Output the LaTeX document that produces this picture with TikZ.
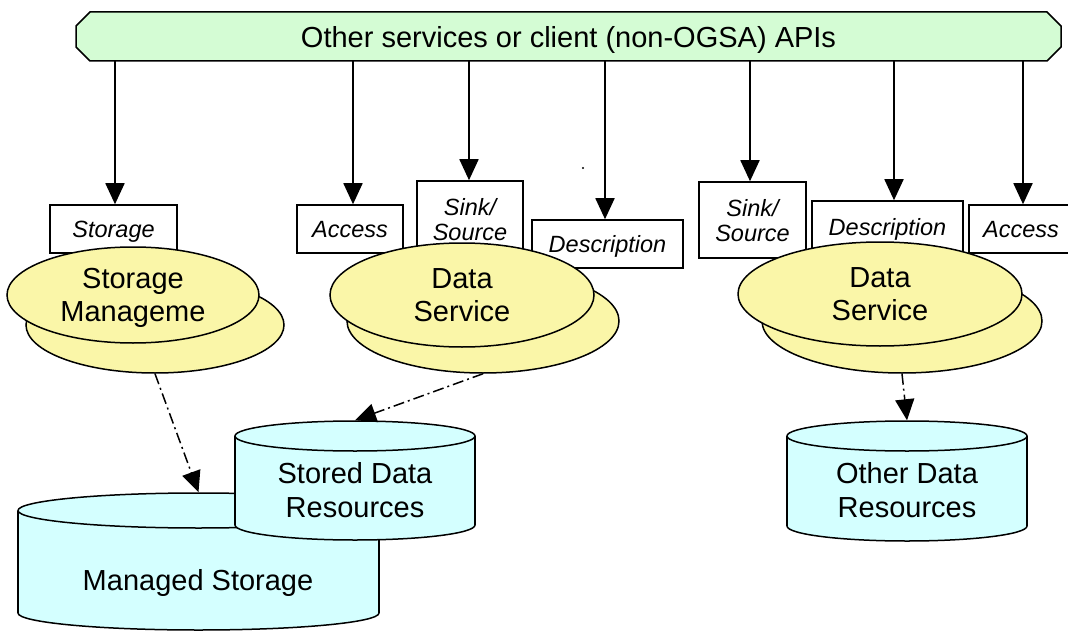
\documentclass[tikz,border=0pt]{standalone}
\usepackage{fontspec}
\setmainfont{Liberation Sans}
\usetikzlibrary{arrows.meta,shapes.geometric}

\definecolor{apigreen}{RGB}{212,252,212}
\definecolor{svcyellow}{RGB}{250,246,168}
\definecolor{storecyan}{RGB}{212,255,255}

\tikzset{
  lbl/.style={font=\fontsize{23.5}{26}\selectfont\itshape},
  big/.style={font=\fontsize{29}{33.5}\selectfont},
  portbox/.style={draw, fill=white, line width=1.5pt, inner sep=0pt, align=center, lbl, text depth=0pt},
  svc/.style={ellipse, draw, fill=svcyellow, line width=1.5pt, inner sep=0pt, align=center, big, text depth=0pt},
  disk/.style={ellipse, draw, fill=storecyan, line width=1.5pt, inner sep=0pt},
  diskside/.style={line width=1.5pt},
  call/.style={line width=1.7pt, -{Triangle[width=19pt,length=21pt]}},
  uses/.style={line width=1.5pt, dash pattern=on 11pt off 4pt on 2pt off 4pt,
               -{Triangle[width=19pt,length=21pt]}},
}

\begin{document}
\begin{tikzpicture}[x=1pt, y=-1pt]
\useasboundingbox (0,0) rectangle (1068,631);
\clip (0,0) rectangle (1068,631);

% API banner with cut corners
\draw[fill=apigreen, line width=1.5pt]
  (90,12) -- (1047,12) -- (1061,26) -- (1061,47) -- (1047,61)
  -- (90,61) -- (76,47) -- (76,26) -- cycle;
\node[big, minimum width=985pt, minimum height=49pt, inner sep=0pt, text depth=0pt] (api) at (568.5,36.5)
  {Other services or client (non-OGSA) APIs};

% port interface boxes
\node[portbox, minimum width=127pt, minimum height=48pt] (stor)  at (113.5,229) {Storage};
\node[portbox, minimum width=106pt, minimum height=48pt] (accL)  at (350,229)   {Access};
\node[portbox, minimum width=106pt, minimum height=76pt] (sinkL) at (470,219)   {Sink/\\[-1pt]Source};
\node[portbox, minimum width=151pt, minimum height=48pt] (descL) at (607.5,244) {Description};
\node[portbox, minimum width=107pt, minimum height=76pt] (sinkR) at (752.5,220) {Sink/\\[-1pt]Source};
\node[portbox, minimum width=151pt, minimum height=52pt] (descR) at (887.5,227) {Description};
\node[portbox, minimum width=104pt, minimum height=48pt] (accR)  at (1021,229)  {Access};

% calls coming down from the API banner
\draw[call] ([xshift=1.5pt]stor.north  |- api.south) -- ([xshift=1.5pt]stor.north);
\draw[call] ([xshift=3pt]accL.north    |- api.south) -- ([xshift=3pt]accL.north);
\draw[call] ([xshift=-1pt]sinkL.north  |- api.south) -- ([xshift=-1pt]sinkL.north);
\draw[call] ([xshift=-2.5pt]descL.north|- api.south) -- ([xshift=-2.5pt]descL.north);
\draw[call] ([xshift=-2.5pt]sinkR.north|- api.south) -- ([xshift=-2.5pt]sinkR.north);
\draw[call] ([xshift=6.5pt]descR.north |- api.south) -- ([xshift=6.5pt]descR.north);
\draw[call] ([xshift=2pt]accR.north    |- api.south) -- ([xshift=2pt]accR.north);

\fill (583,168) circle[radius=1.2pt];

% stacked service ellipses
\node[svc, minimum width=258pt, minimum height=96pt]  (smB)  at (155,325) {};
\node[svc, minimum width=252pt, minimum height=96pt]  (smF)  at (133,295) {Storage\\Manageme};
\node[svc, minimum width=272pt, minimum height=104pt] (dsLB) at (483,321) {};
\node[svc, minimum width=264pt, minimum height=104pt] (dsLF) at (462,295) {Data\\Service};
\node[svc, minimum width=280pt, minimum height=104pt] (dsRB) at (902,321) {};
\node[svc, minimum width=284pt, minimum height=104pt] (dsRF) at (880,294) {Data\\Service};

% Managed Storage drum
\draw[diskside, fill=storecyan] (198.5,613) ellipse [x radius=180.5pt, y radius=17pt];
\fill[storecyan] (18,510.5) rectangle (379,613);
\draw[diskside] (18,510.5) -- (18,613);
\draw[diskside] (379,510.5) -- (379,613);
\node[disk, minimum width=361pt, minimum height=35pt] (msTop) at (198.5,510.5) {};
\node[big] (ms) at (198,583) {Managed Storage};

% Stored Data Resources drum
\draw[diskside, fill=storecyan] (355,525) ellipse [x radius=120pt, y radius=15pt];
\fill[storecyan] (235,436) rectangle (475,525);
\draw[diskside] (235,436) -- (235,525);
\draw[diskside] (475,436) -- (475,525);
\node[disk, minimum width=240pt, minimum height=30pt] (sdTop) at (355,436) {};
\node[big, align=center] (sd) at (355,490) {Stored Data\\Resources};

% Other Data Resources drum
\draw[diskside, fill=storecyan] (907,526) ellipse [x radius=120pt, y radius=15pt];
\fill[storecyan] (787,436) rectangle (1027,526);
\draw[diskside] (787,436) -- (787,526);
\draw[diskside] (1027,436) -- (1027,526);
\node[disk, minimum width=240pt, minimum height=30pt] (odTop) at (907,436) {};
\node[big, align=center] (od) at (907,490) {Other Data\\Resources};

% services acting on their resources
\draw[uses] (smB.south)  -- (msTop.north);
\draw[uses] (dsLB.south) -- (sdTop.north);
\draw[uses] (dsRB.south) -- (odTop.north);
\end{tikzpicture}
\end{document}
